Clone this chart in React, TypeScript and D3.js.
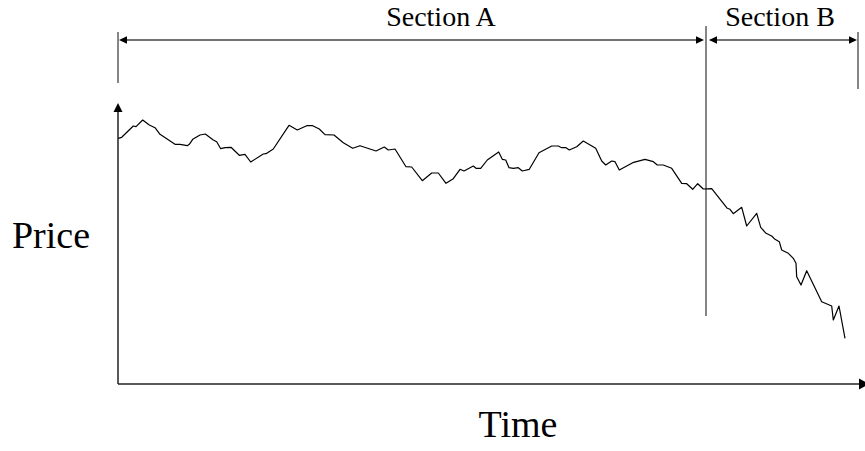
import React from "react";
import * as d3 from "d3";

const time: number[] = [
  0.3, 3.7, 15.3, 18, 24.7, 31.3, 37, 42, 57, 62,
  69.3, 71.3, 74.7, 82, 87.3, 95.3, 98.7, 102.7, 107, 113,
  121.3, 127, 132.7, 145.3, 148, 155.3, 171, 179.3, 188.7, 194.7,
  201.3, 207, 216, 225.3, 234.7, 242, 258, 266.3, 270.3, 277,
  288, 293.7, 304.3, 313.7, 320.3, 328, 335.3, 342, 346, 355.3,
  358, 362.7, 369.3, 380.7, 384.3, 387.7, 391, 395.3, 400.3, 404.3,
  411.3, 421, 433.7, 440.3, 443.7, 448, 451.3, 458.7, 465.3, 477.7,
  483.7, 487.7, 493.7, 497, 501.3, 514.7, 527, 535.3, 539.3, 545.3,
  553.7, 563.7, 568.7, 574.7, 579.7, 585.3, 593.7, 609.3, 612, 615.3,
  623.7, 628.7, 638.7, 642.7, 648, 653.7, 657, 661.3, 663.7, 670.3,
  675.3, 678, 678.7, 683, 688.7, 703.7, 713.7, 715.3, 721, 727,
];

const price: number[] = [
  245.7, 246.7, 258, 257.3, 264, 259, 256.3, 249.7, 239.7, 239.7,
  238.3, 239.7, 244.7, 249, 250, 244, 242.3, 235.3, 236.3, 236.7,
  228.7, 229.7, 222, 230, 230.3, 235, 258.7, 254, 258.3, 258.3,
  255, 249.3, 249, 241.3, 235.7, 238.3, 233, 237, 234, 235,
  217.3, 217, 203.3, 211, 211, 200.7, 205.3, 214.7, 213, 218,
  215.7, 215.7, 224, 232, 224.7, 224, 216.3, 215.7, 216.3, 213,
  214.7, 231.3, 238, 238, 236.3, 236.3, 234, 237.3, 243, 235.7,
  223, 219, 223, 222.3, 214, 221.3, 224.7, 222.3, 219, 219,
  215.7, 200.7, 200.3, 194.7, 200.3, 195, 195.3, 175.7, 174.7, 170.3,
  176.7, 158, 170.7, 156.7, 150.7, 148, 144.7, 142.3, 134, 130.7,
  125.7, 120.7, 107.3, 99, 113.3, 82.3, 78, 64, 78, 45.7,
];

// Section boundaries in time units
const sectionBounds: number[] = [0, 588, 740];
const sectionLabels: string[] = ["Section A", "Section B"];
const sectionLabelTimes: number[] = [323, 662];

const W = 865;
const H = 451;

export default function App() {
  const x = d3.scaleLinear().domain([0, 747]).range([118, 865]);
  const y = d3.scaleLinear().domain([0, 280]).range([384, 104]);

  const pts: [number, number][] = time.map((t, i) => [t, price[i]]);
  const line = d3
    .line<[number, number]>()
    .x((d) => x(d[0]))
    .y((d) => y(d[1]));

  const font = "'Liberation Serif', 'Times New Roman', serif";
  const axisColor = "#222";
  const bracketColor = "#444";
  const arrowY = 40;

  const x0 = x(sectionBounds[0]);
  const x1 = x(sectionBounds[1]);
  const x2 = x(sectionBounds[2]);
  const xAxisEnd = x.range()[1];
  const yTop = y.range()[1];
  const yBase = y.range()[0];

  const tri = (tipX: number, tipY: number, dir: "l" | "r" | "u", len: number, hw: number) => {
    if (dir === "l") return `M${tipX},${tipY} L${tipX + len},${tipY - hw} L${tipX + len},${tipY + hw} Z`;
    if (dir === "r") return `M${tipX},${tipY} L${tipX - len},${tipY - hw} L${tipX - len},${tipY + hw} Z`;
    return `M${tipX},${tipY} L${tipX - hw},${tipY + len} L${tipX + hw},${tipY + len} Z`;
  };

  return (
    <svg
      width={W}
      height={H}
      style={{ position: "absolute", left: 0, top: 0, background: "#fff" }}
    >
      <rect x={0} y={0} width={W} height={H} fill="#fff" />
      {/* section brackets */}
      <line x1={x0} y1={32} x2={x0} y2={83} stroke={bracketColor} strokeWidth={1.3} />
      <line x1={x2} y1={32} x2={x2} y2={89} stroke={bracketColor} strokeWidth={1.3} />
      <line x1={x1} y1={26} x2={x1} y2={316} stroke={bracketColor} strokeWidth={1.3} />
      {/* Section A arrow */}
      <line x1={x0 + 4} y1={arrowY} x2={x1 - 4} y2={arrowY} stroke={bracketColor} strokeWidth={1.3} />
      <path d={tri(x0 + 1, arrowY, "l", 8, 3.8)} fill="#000" />
      <path d={tri(x1 - 2, arrowY, "r", 8, 3.8)} fill="#000" />
      {/* Section B arrow */}
      <line x1={x1 + 4} y1={arrowY} x2={x2 - 4} y2={arrowY} stroke={bracketColor} strokeWidth={1.3} />
      <path d={tri(x1 + 3, arrowY, "l", 8, 3.8)} fill="#000" />
      <path d={tri(x2 - 1, arrowY, "r", 8, 3.8)} fill="#000" />
      {sectionLabels.map((s, i) => (
        <text
          key={s}
          x={x(sectionLabelTimes[i])}
          y={26}
          textAnchor="middle"
          fontFamily={font}
          fontSize={28}
          fill="#000"
        >
          {s}
        </text>
      ))}
      {/* axes */}
      <line x1={x0} y1={yTop + 4} x2={x0} y2={yBase} stroke={axisColor} strokeWidth={1.5} />
      <path d={tri(x0, yTop - 1, "u", 9, 4.5)} fill="#000" />
      <line x1={x0} y1={yBase} x2={xAxisEnd - 5} y2={yBase} stroke={axisColor} strokeWidth={1.5} />
      <path d={tri(xAxisEnd + 4, yBase, "r", 10, 5.5)} fill="#000" />
      {/* price line */}
      <path d={line(pts) ?? ""} fill="none" stroke="#000" strokeWidth={1.2} strokeLinejoin="round" />
      {/* axis titles */}
      <text x={51} y={248} textAnchor="middle" fontFamily={font} fontSize={38} fill="#000">
        Price
      </text>
      <text x={518} y={437} textAnchor="middle" fontFamily={font} fontSize={38} fill="#000">
        Time
      </text>
    </svg>
  );
}
